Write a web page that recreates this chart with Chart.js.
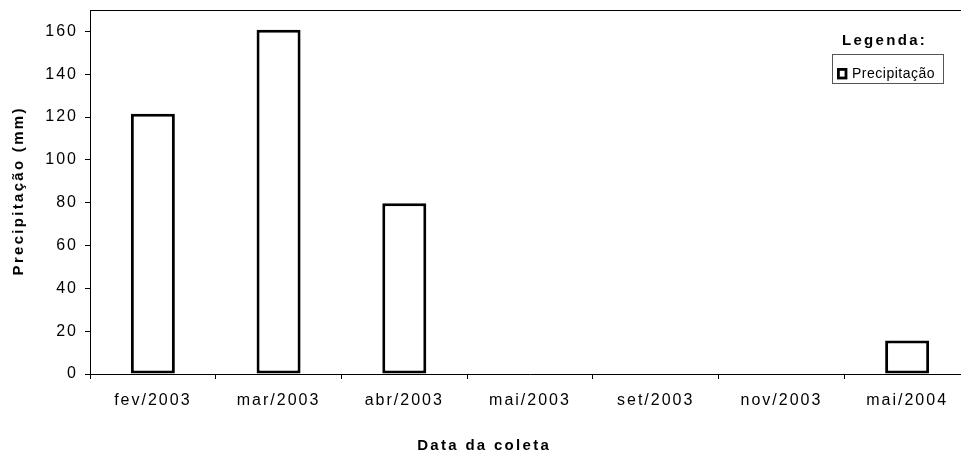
<!DOCTYPE html>
<html>
<head>
<meta charset="utf-8">
<script src="https://cdn.jsdelivr.net/npm/chart.js@4.4.1/dist/chart.umd.min.js"></script>
<style>
  html, body { margin: 0; padding: 0; background: #fff; overflow: hidden; }
  #wrap { width: 970px; height: 454px; position: relative; }
</style>
</head>
<body>
<div id="wrap"><canvas id="c" width="970" height="454"></canvas></div>
<script>
const categories = ['fev/2003', 'mar/2003', 'abr/2003', 'mai/2003', 'set/2003', 'nov/2003', 'mai/2004'];
const precipitacao = [121.5, 160.8, 79.7, 0, 0, 0, 15.7];
const yTickValues = [0, 20, 40, 60, 80, 100, 120, 140, 160];
const yAxisTitle = 'Precipitação (mm)';
const xAxisTitle = 'Data da coleta';
const legendTitle = 'Legenda:';
const seriesName = 'Precipitação';

const FONT = '"Liberation Sans", Arial, sans-serif';

function drawSpaced(ctx, text, x, y, spacing, align) {
  ctx.letterSpacing = spacing + 'px';
  const w = ctx.measureText(text).width - spacing;
  let sx = x;
  if (align === 'center') sx = x - w / 2;
  else if (align === 'right') sx = x - w;
  ctx.textAlign = 'left';
  ctx.fillText(text, sx, y);
  ctx.letterSpacing = '0px';
}

const decor = {
  id: 'decor',
  beforeDraw(chart) {
    chart.ctx.letterSpacing = '2px';
  },
  afterDraw(chart) {
    const ctx = chart.ctx;
    const a = chart.chartArea;
    ctx.save();
    ctx.letterSpacing = '0px';
    // top border of plot area
    ctx.strokeStyle = '#000';
    ctx.lineWidth = 1;
    ctx.beginPath();
    ctx.moveTo(a.left, a.top + 0.5);
    ctx.lineTo(a.right, a.top + 0.5);
    ctx.stroke();

    ctx.fillStyle = '#000';
    ctx.textBaseline = 'alphabetic';
    // x axis title
    ctx.font = 'bold 15px ' + FONT;
    drawSpaced(ctx, xAxisTitle, 483, 450, 2.3, 'center');
    // y axis title
    ctx.save();
    ctx.translate(23, (a.top + a.bottom) / 2);
    ctx.rotate(-Math.PI / 2);
    drawSpaced(ctx, yAxisTitle, 0, 0, 2.3, 'center');
    ctx.restore();

    // legend title
    ctx.font = 'bold 15px ' + FONT;
    drawSpaced(ctx, legendTitle, 842, 45, 2.3, 'left');
    // legend box
    ctx.strokeStyle = '#555';
    ctx.lineWidth = 1;
    ctx.strokeRect(832.5, 54.5, 111, 29);
    // marker
    ctx.fillStyle = '#fff';
    ctx.fillRect(837, 69, 10, 10);
    ctx.strokeStyle = '#000';
    ctx.lineWidth = 2.8;
    ctx.strokeRect(838.4, 69.4, 7.6, 8.6);
    // legend text
    ctx.fillStyle = '#000';
    ctx.font = '14px ' + FONT;
    drawSpaced(ctx, seriesName, 852, 77.5, 0.5, 'left');
    ctx.restore();
  }
};

new Chart(document.getElementById('c'), {
  type: 'bar',
  data: {
    labels: categories,
    datasets: [{
      label: seriesName,
      data: precipitacao,
      backgroundColor: '#ffffff',
      borderColor: '#000000',
      borderWidth: 3,
      borderSkipped: false,
      barPercentage: 0.35,
      categoryPercentage: 1.0
    }]
  },
  options: {
    responsive: false,
    animation: false,
    events: [],
    layout: { padding: { top: 10, left: 0, right: 0, bottom: 0 } },
    plugins: {
      legend: { display: false },
      tooltip: { enabled: false },
      title: { display: false }
    },
    scales: {
      x: {
        offset: true,
        grid: {
          offset: true,
          drawOnChartArea: false,
          drawTicks: true,
          tickLength: 5,
          color: '#000'
        },
        border: { color: '#000', width: 1 },
        ticks: {
          color: '#000',
          font: { family: FONT, size: 16 },
          padding: 12,
          maxRotation: 0,
          autoSkip: false
        },
        afterFit(scale) {
          scale.height = 80;
          scale.paddingLeft = 0; scale.paddingRight = 0;
        }
      },
      y: {
        min: 0,
        max: 170,
        grid: {
          drawOnChartArea: false,
          drawTicks: true,
          tickLength: 5,
          color: '#000'
        },
        border: { color: '#000', width: 1 },
        ticks: {
          color: '#000',
          font: { family: FONT, size: 16 },
          padding: 7,
          stepSize: 20,
          includeBounds: false
        },
        afterBuildTicks(scale) {
          scale.ticks = yTickValues.map(v => ({ value: v }));
        },
        afterFit(scale) {
          scale.width = 90;
          scale.paddingTop = 0; scale.paddingBottom = 0;
        }
      }
    }
  },
  plugins: [decor]
});
</script>
</body>
</html>
